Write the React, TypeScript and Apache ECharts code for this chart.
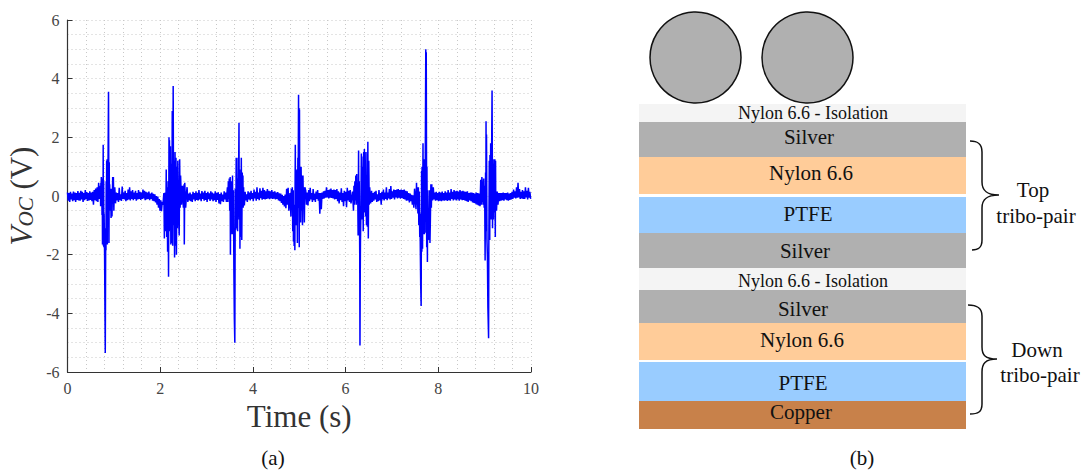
import React, { useEffect, useRef } from "react";
import * as echarts from "echarts";

// ---------- signal values (volts) ----------
const quietStep = 0.016;
const quiet0Start = 0.0;
const quiet0 = [0.12,-0.16,0.1,-0.2,0.14,-0.12,0.08,-0.18,0.15,-0.14,0.12,-0.2,0.1,-0.13,0.17,-0.15,0.11,-0.16,0.18,-0.12,0.14,-0.2,0.1,-0.14,0.2,-0.11,0.13,-0.17,0.1,-0.15,0.16,-0.13,0.12,-0.18,0.14,-0.3,0.2,-0.14,0.25,-0.18,0.3,-0.2,0.45,-0.1];
const quiet1Start = 1.02;
const quiet1 = [0.3,-0.25,0.12,-0.15,0.1,-0.2,0.28,-0.14,0.06,-0.17,0.32,-0.1,0.12,-0.12,0.18,-0.18,0.1,-0.14,0.22,-0.12,0.3,-0.15,0.16,-0.1,0.2,-0.14,0.12,-0.1,0.18,-0.16,0.1,-0.12,0.2,-0.1,0.14,-0.13,0.12,-0.1,0.22,-0.08,0.18,-0.14,0.14,-0.12,0.12,-0.1,0.15,-0.14,0.08,-0.1,0.12,-0.16,0.07,-0.18,0.06,-0.22,0.0,-0.3,-0.02,-0.4,-0.1,-0.5,-0.15,-0.52,-0.2,-0.3,0.05,-0.25,0.12,-0.35];
const quiet2Start = 2.58;
const quiet2 = [0.3,-0.2,0.08,-0.15,0.12,-0.18,0.06,-0.2,0.14,-0.12,0.1,-0.18,0.16,-0.13,0.1,-0.15,0.2,-0.12,0.08,-0.18,0.17,-0.1,0.12,-0.16,0.18,-0.13,0.1,-0.2,0.14,-0.11,0.09,-0.17,0.16,-0.12,0.12,-0.18,0.08,-0.14,0.16,-0.2,0.1,-0.13,0.13,-0.25,0.07,-0.28,0.12,-0.18,0.05,-0.2,0.16,-0.12,0.12,-0.2];
const quiet3Start = 3.8;
const quiet3 = [0.1,-0.32,0.14,-0.15,0.06,-0.2,0.16,-0.12,0.12,-0.15,0.18,-0.1,0.1,-0.18,0.22,-0.08,0.14,-0.16,0.3,-0.1,0.12,-0.14,0.26,-0.07,0.18,-0.13,0.28,-0.1,0.2,-0.12,0.16,-0.1,0.24,-0.08,0.18,-0.11,0.16,-0.08,0.2,-0.1,0.14,-0.09,0.16,-0.12,0.12,-0.1,0.13,-0.15,0.09,-0.18,0.08,-0.24,0.04,-0.3,0.0,-0.36,0.05,-0.42,0.25,-0.3,0.28,-0.5];
const quiet4Start = 5.14;
const quiet4 = [0.18,-0.3,0.12,-0.32,0.2,-0.18,0.28,-0.12,0.1,-0.2,0.24,-0.14,0.08,-0.2,0.15,-0.1,0.2,-0.16,0.1,-0.6,0.1,-0.45,0.12,-0.1,0.16,-0.08,0.18,-0.06,0.3,-0.05,0.2,-0.08,0.22,-0.06,0.25,-0.07,0.2,-0.08,0.22,-0.12,0.2,-0.1,0.24,-0.18,0.16,-0.25,0.12,-0.14,0.26,-0.2,0.1,-0.35,0.18,-0.18,0.14,-0.38,0.28,-0.15,0.18,-0.2,0.2,-0.25];
const quiet5Start = 6.56;
const quiet5 = [0.18,-0.2,0.1,-0.16,0.14,-0.12,0.18,-0.2,0.06,-0.18,0.2,-0.15,0.1,-0.3,0.14,-0.12,0.22,-0.15,0.12,-0.1,0.3,-0.14,0.12,-0.08,0.24,-0.12,0.34,-0.1,0.16,-0.06,0.22,-0.12,0.2,-0.05,0.22,-0.08,0.24,-0.06,0.2,-0.09,0.22,-0.07,0.2,-0.1,0.22,-0.12,0.18,-0.16,0.16,-0.15,0.1,-0.22,0.08,-0.18,0.04,-0.3,0.02,-0.4,0.25,-0.2];
const quiet6Start = 7.86;
const quiet6 = [0.25,-0.15,0.3,-0.12,0.12,-0.16,0.14,-0.14,0.1,-0.18,0.14,-0.16,0.12,-0.18,0.15,-0.15,0.1,-0.16,0.16,-0.14,0.12,-0.17,0.2,-0.14,0.12,-0.16,0.24,-0.1,0.14,-0.15,0.2,-0.12,0.16,-0.15,0.18,-0.12,0.15,-0.16,0.2,-0.12,0.16,-0.14,0.18,-0.13,0.15,-0.16,0.14,-0.18,0.16,-0.2,0.1,-0.15,0.12,-0.18,0.12,-0.22,0.1,-0.24,0.08,-0.26,0.12,-0.3,0.1,-0.32,0.08,-0.35,0.55,-0.3,0.45];
const quiet7Start = 9.24;
const quiet7 = [0.18,-0.5,0.15,-0.3,0.1,-0.18,0.1,-0.16,0.1,-0.14,0.12,-0.16,0.1,-0.12,0.1,-0.14,0.12,-0.16,0.08,-0.13,0.1,-0.12,0.14,-0.1,0.22,-0.06,0.16,-0.08,0.3,-0.06,0.45,-0.05,0.24,-0.1,0.14,-0.08,0.2,-0.1,0.16,-0.1,0.3,-0.05,0.18,-0.12,0.28,-0.06,0.14,-0.1,0.2,-0.14,0.1,-0.16,0.25,-0.12,0.12,-0.14,0.14,-0.15];

const burst1: [number, number][] = [[0.71,0.35],[0.715,-0.35],[0.72,0.45],[0.725,-0.15],[0.73,0.65],[0.735,-0.3],[0.74,0.5],[0.745,-0.65],[0.75,0.6],[0.755,-1.65],[0.76,0.4],[0.765,-1.2],[0.77,1.75],[0.775,-1.7],[0.78,0.5],[0.785,-1.75],[0.79,-0.6],[0.8,-1.95],[0.808,-3.9],[0.815,-5.35],[0.82,-3.2],[0.825,-1.1],[0.83,-1.85],[0.835,0.5],[0.84,-1.1],[0.845,1.2],[0.85,-1.5],[0.855,1.25],[0.86,-1.65],[0.865,1.2],[0.875,1.25],[0.885,3.55],[0.89,1.2],[0.895,-1.6],[0.9,1.15],[0.905,-0.3],[0.91,0.4],[0.92,-0.5],[0.93,0.25],[0.94,-0.75],[0.95,0.25],[0.96,-0.7],[0.975,0.65],[0.98,-0.2],[0.99,0.65],[1.0,-0.5],[1.01,0.25]];
const burst2: [number, number][] = [[2.08,0.1],[2.09,-1.45],[2.1,-0.5],[2.115,-1.2],[2.13,0.9],[2.14,-1.4],[2.15,0.3],[2.16,-1.9],[2.17,0.5],[2.18,-2.75],[2.19,2.0],[2.195,-1.2],[2.2,1.9],[2.21,-0.6],[2.22,1.7],[2.23,-1.65],[2.24,1.1],[2.25,-1.6],[2.26,2.9],[2.27,-1.7],[2.28,3.75],[2.285,1.3],[2.295,-1.0],[2.3,1.2],[2.31,-2.1],[2.32,1.5],[2.33,-1.7],[2.34,1.3],[2.35,-2.0],[2.36,1.0],[2.37,-1.1],[2.38,1.2],[2.39,-0.3],[2.41,-1.35],[2.42,1.25],[2.43,-0.4],[2.44,0.7],[2.46,-0.3],[2.48,0.35],[2.5,-0.4],[2.515,0.4],[2.52,-1.65],[2.53,0.45],[2.55,-0.4],[2.57,0.15]];
const burst3: [number, number][] = [[3.45,0.3],[3.46,-0.2],[3.47,0.5],[3.48,-0.1],[3.49,0.6],[3.5,-0.5],[3.51,0.65],[3.515,-2.0],[3.52,0.2],[3.53,-1.1],[3.54,0.5],[3.55,-1.3],[3.56,0.7],[3.57,-1.3],[3.58,0.2],[3.59,-2.6],[3.6,-4.2],[3.61,-5.0],[3.615,-2.4],[3.62,0.25],[3.63,-1.15],[3.64,1.3],[3.65,-1.1],[3.66,0.6],[3.67,-1.2],[3.68,1.3],[3.69,0.4],[3.7,2.5],[3.705,-0.8],[3.715,0.9],[3.72,-1.8],[3.73,0.7],[3.74,-1.4],[3.75,1.3],[3.76,-1.5],[3.77,0.8],[3.78,-0.4],[3.785,0.7],[3.79,-0.4],[3.8,0.3]];
const burst4: [number, number][] = [[4.8,0.1],[4.82,-0.7],[4.83,0.25],[4.84,-0.3],[4.85,0.3],[4.86,-1.2],[4.87,0.2],[4.875,-1.55],[4.88,-0.4],[4.89,-1.7],[4.9,-0.3],[4.905,-1.85],[4.91,0.2],[4.915,1.75],[4.92,-0.6],[4.93,0.3],[4.94,-1.0],[4.95,0.9],[4.96,-1.6],[4.97,1.3],[4.975,-0.4],[4.985,3.45],[4.99,0.4],[4.995,3.0],[5.0,-1.75],[5.005,2.95],[5.01,-0.2],[5.02,1.0],[5.03,-0.9],[5.04,1.0],[5.05,-0.5],[5.06,0.7],[5.07,-1.0],[5.08,0.7],[5.09,-0.4],[5.1,0.3],[5.11,-0.9],[5.12,0.3]];
const burst5: [number, number][] = [[6.15,0.15],[6.17,-0.5],[6.18,0.35],[6.19,-0.3],[6.2,0.5],[6.21,-0.15],[6.22,0.7],[6.23,-0.3],[6.24,0.75],[6.25,-0.2],[6.26,0.4],[6.27,-1.35],[6.28,1.55],[6.285,-0.5],[6.295,0.5],[6.305,-2.0],[6.31,-5.1],[6.315,-3.0],[6.32,-1.6],[6.33,-0.6],[6.34,1.45],[6.345,-0.8],[6.35,1.35],[6.36,-0.4],[6.37,1.0],[6.38,-1.2],[6.39,1.5],[6.4,-0.55],[6.405,1.6],[6.41,-0.5],[6.42,0.8],[6.43,-0.7],[6.44,1.5],[6.45,-1.0],[6.46,0.5],[6.47,-1.05],[6.48,1.85],[6.49,-1.45],[6.5,1.2],[6.51,-0.3],[6.52,0.3],[6.54,-0.25],[6.56,0.15]];
const burst6: [number, number][] = [[7.5,0.05],[7.52,-0.45],[7.53,0.45],[7.54,-0.3],[7.55,0.3],[7.56,-0.6],[7.57,0.3],[7.58,-1.0],[7.59,0.15],[7.6,-1.4],[7.605,-0.6],[7.61,-1.5],[7.62,-3.0],[7.63,-3.75],[7.635,-1.0],[7.64,0.85],[7.645,-1.9],[7.65,1.0],[7.66,-1.8],[7.67,1.8],[7.675,-1.3],[7.68,1.2],[7.69,1.25],[7.7,-1.3],[7.71,1.2],[7.715,-1.25],[7.72,1.5],[7.73,5.0],[7.735,0.3],[7.74,4.9],[7.75,-1.75],[7.755,1.0],[7.765,-2.25],[7.77,0.2],[7.78,-1.4],[7.79,-0.5],[7.8,-1.5],[7.81,0.2],[7.82,-1.6],[7.83,-0.7],[7.84,0.4],[7.85,-0.4],[7.86,0.4]];
const burst7: [number, number][] = [[8.92,0.15],[8.94,0.65],[8.95,-0.2],[8.96,0.35],[8.97,-0.3],[8.98,0.6],[8.99,-0.4],[9.0,0.35],[9.01,-2.2],[9.015,-0.7],[9.02,0.8],[9.025,-1.2],[9.03,2.55],[9.035,-0.8],[9.04,2.1],[9.05,-1.5],[9.06,-2.1],[9.07,-3.8],[9.085,-4.85],[9.09,-1.8],[9.1,1.2],[9.11,-1.5],[9.115,1.4],[9.125,-0.6],[9.13,1.8],[9.14,-0.8],[9.15,1.4],[9.16,3.6],[9.165,1.5],[9.17,-1.1],[9.18,1.1],[9.19,-0.8],[9.2,1.25],[9.21,-0.55],[9.22,1.25],[9.23,-1.4],[9.235,1.2],[9.24,-0.5]];

const xTicks = { min: 0, max: 10, interval: 2 };
const yTicks = { min: -6, max: 6, interval: 2 };
const xTitle = "Time (s)";

// ---------- stack diagram contents ----------
const layerNames = ["Nylon 6.6 - Isolation","Silver","Nylon 6.6","PTFE","Silver","Nylon 6.6 - Isolation","Silver","Nylon 6.6","PTFE","Copper"];
const layerColors = ["#f4f4f4","#b0b0b0","#ffcc99","#99ccff","#b0b0b0","#f4f4f4","#b0b0b0","#ffcc99","#99ccff","#c8814a"];
const layerTops = [104,122,157,197,233,268,290,323,362,401];
const layerBottoms = [122,157,194,233,268,290,323,360,401,429];
const labelX = [813,809,811,808,805,813,803,802,803,801];
const labelY = [113,137,173,214,251,281,309,340,383,412];
const circleCenters = [695.5, 807.5];

function quiet(start: number, vals: number[]): [number, number][] {
  return vals.map((v, i) => [start + i * quietStep, v] as [number, number]);
}

const signal: [number, number][] = [
  ...quiet(quiet0Start, quiet0), ...burst1,
  ...quiet(quiet1Start, quiet1), ...burst2,
  ...quiet(quiet2Start, quiet2), ...burst3,
  ...quiet(quiet3Start, quiet3), ...burst4,
  ...quiet(quiet4Start, quiet4), ...burst5,
  ...quiet(quiet5Start, quiet5), ...burst6,
  ...quiet(quiet6Start, quiet6), ...burst7,
  ...quiet(quiet7Start, quiet7),
].sort((a, b) => a[0] - b[0]).filter((p) => p[0] <= 10);

echarts.graphic.registerShape("braceTop", echarts.graphic.extendPath(
  "M970 141 C977 141 982 143 982 152 L982 182 C982 190 986 195 999 195 C986 195 982 200 982 208 L982 240 C982 248 978 250 972 250", {}));
echarts.graphic.registerShape("braceDown", echarts.graphic.extendPath(
  "M968 305 C976 305 982 307 982 316 L982 347 C982 355 985 359 997 359 C985 359 982 364 982 372 L982 404 C982 412 978 414 970 414", {}));

const SERIF = '"Liberation Serif", serif';

export default function App() {
  const ref = useRef<HTMLDivElement>(null);
  useEffect(() => {
    document.body.style.margin = "0";
    const chart = echarts.init(ref.current!, null, { renderer: "svg" });
    const gridStyle = { color: "#c8c8c8", type: [1, 3] as number[], width: 1 };
    const axisColor = "#333333";
    const text = (t: string, x: number, y: number, size: number) => ({
      type: "text", x, y, z: 10,
      style: { text: t, fill: "#111", font: `${size}px ${SERIF}`, textAlign: "center", textVerticalAlign: "middle" },
    });
    const graphics: any[] = [];
    layerNames.forEach((name, i) => {
      graphics.push({
        type: "rect", z: 5,
        shape: { x: 639, y: layerTops[i], width: 327, height: layerBottoms[i] - layerTops[i] },
        style: { fill: layerColors[i] },
      });
      graphics.push(text(name, labelX[i], labelY[i], name.includes("Isolation") ? 18 : 21));
    });
    circleCenters.forEach((cx) => graphics.push({
      type: "circle", z: 6, shape: { cx, cy: 57.5, r: 45.5 },
      style: { fill: "#b0b0b0", stroke: "#111", lineWidth: 1.5 },
    }));
    graphics.push({ type: "braceTop", x: 0, y: 0, z: 6, style: { fill: "none", stroke: "#111", lineWidth: 1.5 } });
    graphics.push({ type: "braceDown", x: 0, y: 0, z: 6, style: { fill: "none", stroke: "#111", lineWidth: 1.5 } });
    graphics.push(text("Top", 1033, 190, 21), text("tribo-pair", 1036, 216, 21));
    graphics.push(text("Down", 1037, 350, 21), text("tribo-pair", 1040, 375, 21));
    graphics.push(text("(a)", 273, 458, 21), text("(b)", 862, 458, 21));

    chart.setOption({
      animation: false,
      backgroundColor: "#fff",
      grid: { left: 67.5, top: 20, width: 463.5, height: 352, containLabel: false },
      xAxis: {
        type: "value", ...xTicks, splitNumber: 5,
        name: xTitle, nameLocation: "middle", nameGap: 28,
        nameTextStyle: { fontFamily: SERIF, fontSize: 31, color: "#333" },
        axisLine: { show: true, onZero: false, lineStyle: { color: axisColor, width: 1.2 } },
        axisTick: { show: true, inside: true, length: 5, lineStyle: { color: axisColor } },
        axisLabel: { fontFamily: SERIF, fontSize: 16, color: "#444", margin: 8 },
        splitLine: { show: true, lineStyle: gridStyle },
        minorTick: { show: false, splitNumber: 5 },
        minorSplitLine: { show: true, lineStyle: gridStyle },
      },
      yAxis: {
        type: "value", ...yTicks,
        name: "{v|V}{sub|OC}{v2| (V)}", nameLocation: "middle", nameGap: 31, nameRotate: 90,
        nameTextStyle: {
          color: "#333",
          rich: {
            v: { fontFamily: SERIF, fontStyle: "italic", fontSize: 31, color: "#333" },
            sub: { fontFamily: SERIF, fontStyle: "italic", fontSize: 21, color: "#333", verticalAlign: "bottom", padding: [8, 0, 0, 0] },
            v2: { fontFamily: SERIF, fontSize: 31, color: "#333" },
          },
        },
        axisLine: { show: true, onZero: false, lineStyle: { color: axisColor, width: 1.2 } },
        axisTick: { show: true, inside: true, length: 5, lineStyle: { color: axisColor } },
        axisLabel: { fontFamily: SERIF, fontSize: 16, color: "#444", margin: 8 },
        splitLine: { show: true, lineStyle: gridStyle },
        minorTick: { show: false, splitNumber: 4 },
        minorSplitLine: { show: true, lineStyle: gridStyle },
      },
      series: [{
        type: "line", data: signal, showSymbol: false, symbol: "none",
        lineStyle: { color: "#0000ff", width: 1.5 }, clip: true,
      }],
      graphic: { elements: graphics },
    });
    return () => chart.dispose();
  }, []);
  return <div ref={ref} style={{ width: 1089, height: 472 }} />;
}
